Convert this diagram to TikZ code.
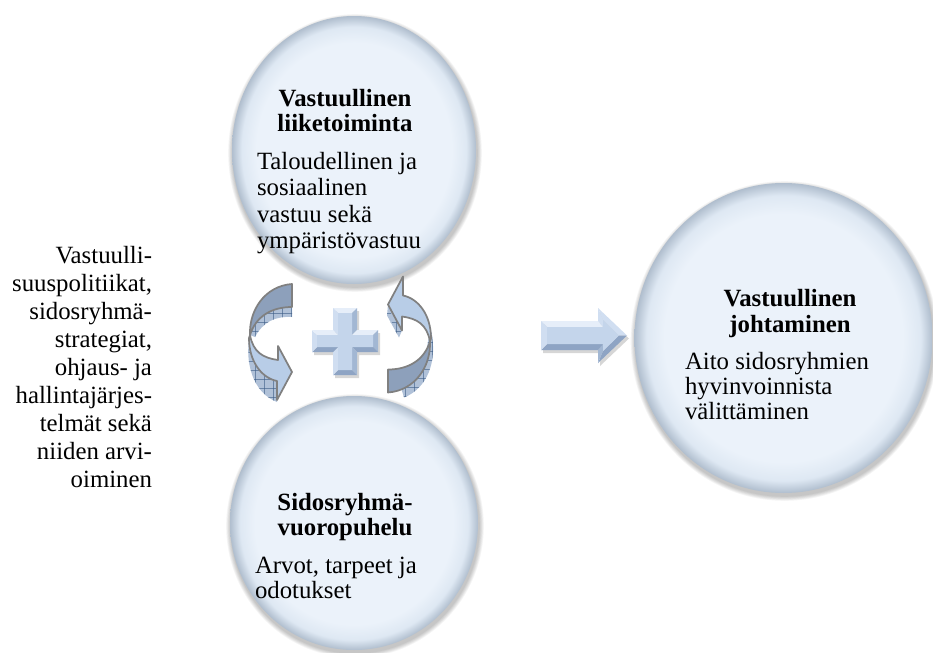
\documentclass[tikz,border=0pt]{standalone}
\usepackage{fontspec}
\setmainfont{Liberation Serif}
\usetikzlibrary{shapes.geometric,patterns.meta}

\definecolor{bubbleIn}{RGB}{235,242,250}
\definecolor{bubbleMid}{RGB}{222,232,243}
\definecolor{bubbleEdge}{RGB}{176,190,206}
\definecolor{faceDark}{RGB}{141,160,187}
\definecolor{faceLight}{RGB}{184,205,231}
\definecolor{ribbonLine}{RGB}{128,128,128}
\definecolor{depthFill}{RGB}{176,193,216}
\definecolor{depthGrid}{RGB}{70,100,140}
\definecolor{bevelFace}{RGB}{196,213,235}
\definecolor{bevelHi}{RGB}{230,238,249}
\definecolor{bevelSide}{RGB}{208,222,241}
\definecolor{bevelShade}{RGB}{162,183,211}
\definecolor{bevelLow}{RGB}{142,164,196}

% soft rim for the round panels
\pgfdeclareradialshading{bubblefill}{\pgfpointorigin}{%
  color(0bp)=(bubbleIn); color(20bp)=(bubbleIn); color(23bp)=(bubbleMid);
  color(25bp)=(bubbleEdge); color(50bp)=(bubbleEdge)}

% cross-hatching on the visible thickness of the ribbon arrows
\tikzdeclarepattern{
  name=depthgrid,
  bounding box={(0pt,0pt) and (7pt,7pt)},
  tile size={(7pt,7pt)},
  code={\draw[depthGrid, line width=0.4pt] (0pt,3.5pt) -- (7pt,3.5pt) (3.5pt,0pt) -- (3.5pt,7pt);}
}

\newcommand\softshadow[4]{%
  \foreach \k in {1,...,6}{%
    \fill[black, opacity=0.04] (#1+1,#2+3) ellipse [x radius={#3+0.8*\k}, y radius={#4+0.8*\k}];
  }}

% the two faces of a curved ribbon arrow (tail on top, head at the bottom)
\newcommand\ribbonfaces{%
  \filldraw[ribbontop] (292,284) -- (292,307) .. controls (272,307) and (256,316) .. (250,335)
    .. controls (249,310) and (265,286) .. (292,284) -- cycle;
  \filldraw[ribbonlow] (250,335) .. controls (253,352) and (263,358) .. (278,360) -- (278,346)
    -- (292,372) -- (277,400) -- (277,381) .. controls (262,378) and (249,362) .. (249,338) -- cycle;
}

\tikzset{
  bubble/.style={ellipse, inner sep=0pt, outer sep=0pt, shade, shading=bubblefill},
  txt/.style={inner sep=0pt, outer sep=0pt},
  ribbontop/.style={fill=faceDark, draw=ribbonLine, line width=1.3pt, line join=round},
  ribbonlow/.style={fill=faceLight, draw=ribbonLine, line width=1.3pt, line join=round},
  ribbondepth/.style={preaction={fill=depthFill}, pattern=depthgrid, pattern color=depthGrid},
  dropshade/.style={fill=black, opacity=0.16}
}

\begin{document}
\begin{tikzpicture}[x=0.75pt, y=-0.75pt]
\useasboundingbox (0,0) rectangle (933,653);
\fill[white] (0,0) rectangle (933,653);

% round panels
\softshadow{354}{150}{122}{134}
\softshadow{354}{523}{124}{127}
\softshadow{783.5}{338}{149}{155}
\node[bubble, minimum width=183pt, minimum height=201pt] (biz) at (354,150) {};
\node[bubble, minimum width=186pt, minimum height=190.5pt] (talk) at (354,523) {};
\node[bubble, minimum width=223.5pt, minimum height=232.5pt] (lead) at (783.5,338) {};

% texts
\node[txt, anchor=base east] (side) at (152,263) {\fontsize{18.6pt}{21pt}\selectfont
  \begin{tabular}[t]{@{}r@{}}Vastuulli-\\suuspolitiikat,\\sidosryhmä-\\strategiat,\\ohjaus- ja\\hallintajärjes-\\telmät sekä\\niiden arvi-\\oiminen\end{tabular}};

\node[txt, anchor=base] (bizhead) at (345,106) {\fontsize{18.6pt}{18.75pt}\selectfont\bfseries
  \begin{tabular}[t]{@{}c@{}}Vastuullinen\\liiketoiminta\end{tabular}};
\node[txt, anchor=base west] (bizbody) at (257,169) {\fontsize{18.6pt}{19.9pt}\selectfont
  \begin{tabular}[t]{@{}l@{}}Taloudellinen ja\\sosiaalinen\\vastuu sekä\\ympäristövastuu\end{tabular}};

\node[txt, anchor=base] (talkhead) at (345,510) {\fontsize{18.6pt}{18.75pt}\selectfont\bfseries
  \begin{tabular}[t]{@{}c@{}}Sidosryhmä-\\vuoropuhelu\end{tabular}};
\node[txt, anchor=base west] (talkbody) at (255,573) {\fontsize{18.6pt}{18.75pt}\selectfont
  \begin{tabular}[t]{@{}l@{}}Arvot, tarpeet ja\\odotukset\end{tabular}};

\node[txt, anchor=base] (leadhead) at (790,306) {\fontsize{18.6pt}{19.5pt}\selectfont\bfseries
  \begin{tabular}[t]{@{}c@{}}Vastuullinen\\johtaminen\end{tabular}};
\node[txt, anchor=base west] (leadbody) at (685,369) {\fontsize{18.6pt}{18.75pt}\selectfont
  \begin{tabular}[t]{@{}l@{}}Aito sidosryhmien\\hyvinvoinnista\\välittäminen\end{tabular}};

% left ribbon arrow
\path[ribbondepth] (292,307) -- (292,317) .. controls (275,316) and (263,322) .. (255,337)
  -- (250,335) .. controls (256,316) and (272,307) .. (292,307) -- cycle;
\path[ribbondepth] (250,334) .. controls (244,362) and (253,393) .. (277,402) -- (277,381)
  .. controls (262,378) and (249,362) .. (249,338) -- cycle;
\ribbonfaces

% right ribbon arrow: the same ribbon turned half a turn
\begin{scope}[shift={(680,676.5)}, rotate=180]
  \path[ribbondepth] (249,346) .. controls (242,315) and (253,288) .. (276,279) -- (280,292)
    -- (255,320) -- (251,340) -- cycle;
  \path[ribbondepth] (278,346) -- (292,372) -- (293,361) -- (281,339) -- cycle;
  \ribbonfaces
\end{scope}

% plus sign: shadow, bevelled rim faces, flat top face
\fill[dropshade, shift={(2,3)}] (333,308) -- (357,308) -- (357,330) -- (378,330) -- (378,352) -- (357,352)
  -- (357,375) -- (333,375) -- (333,352) -- (312,352) -- (312,330) -- (333,330) -- cycle;
\fill[bevelHi]    (333,308) -- (357,308) -- (352,313) -- (338,313) -- cycle;
\fill[bevelShade] (357,308) -- (357,330) -- (352,335) -- (352,313) -- cycle;
\fill[bevelHi]    (357,330) -- (378,330) -- (373,335) -- (352,335) -- cycle;
\fill[bevelShade] (378,330) -- (378,352) -- (373,347) -- (373,335) -- cycle;
\fill[bevelLow]   (378,352) -- (357,352) -- (352,347) -- (373,347) -- cycle;
\fill[bevelShade] (357,352) -- (357,375) -- (352,370) -- (352,347) -- cycle;
\fill[bevelLow]   (357,375) -- (333,375) -- (338,370) -- (352,370) -- cycle;
\fill[bevelSide]  (333,375) -- (333,352) -- (338,347) -- (338,370) -- cycle;
\fill[bevelLow]   (333,352) -- (312,352) -- (317,347) -- (338,347) -- cycle;
\fill[bevelSide]  (312,352) -- (312,330) -- (317,335) -- (317,347) -- cycle;
\fill[bevelHi]    (312,330) -- (333,330) -- (338,335) -- (317,335) -- cycle;
\fill[bevelSide]  (333,330) -- (333,308) -- (338,313) -- (338,335) -- cycle;
\fill[bevelFace] (338,313) -- (352,313) -- (352,335) -- (373,335) -- (373,347) -- (352,347)
  -- (352,370) -- (338,370) -- (338,347) -- (317,347) -- (317,335) -- (338,335) -- cycle;

% block arrow towards the right panel
\fill[dropshade, shift={(2,3)}] (541,321) -- (598,321) -- (598,308) -- (627,335.5) -- (598,363)
  -- (598,350) -- (541,350) -- cycle;
\fill[bevelHi]    (541,321) -- (598,321) -- (603,327) -- (547,327) -- cycle;
\fill[bevelSide]  (598,321) -- (598,308) -- (603,320) -- (603,327) -- cycle;
\fill[bevelSide]  (598,308) -- (627,335.5) -- (619,335.5) -- (603,320) -- cycle;
\fill[bevelLow]   (627,335.5) -- (598,363) -- (603,351) -- (619,335.5) -- cycle;
\fill[bevelShade] (598,363) -- (598,350) -- (603,344) -- (603,351) -- cycle;
\fill[bevelLow]   (598,350) -- (541,350) -- (547,344) -- (603,344) -- cycle;
\fill[bevelSide]  (541,350) -- (541,321) -- (547,327) -- (547,344) -- cycle;
\fill[bevelFace] (547,327) -- (603,327) -- (603,320) -- (619,335.5) -- (603,351)
  -- (603,344) -- (547,344) -- cycle;
\end{tikzpicture}
\end{document}
